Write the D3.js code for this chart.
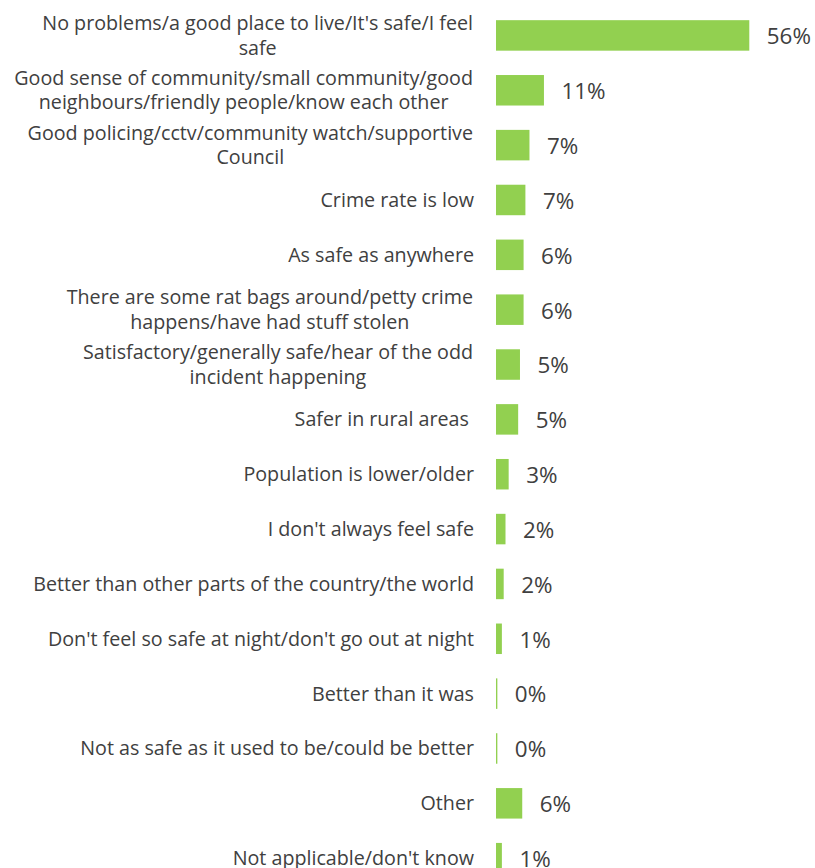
<!DOCTYPE html>
<html>
<head>
<meta charset="utf-8">
<script src="https://cdn.jsdelivr.net/npm/d3@7"></script>
<style>
  body { margin: 0; background: #fff; }
  text { font-family: "Open Sans", sans-serif; fill: #404040; }
</style>
</head>
<body>
<div id="chart"></div>
<script>
let w = 815;
let h = 868;

// categories as they appear, top to bottom
let categories = [
    "No problems/a good place to live/It's safe/I feel safe",
    "Good sense of community/small community/good neighbours/friendly people/know each other",
    "Good policing/cctv/community watch/supportive Council",
    "Crime rate is low",
    "As safe as anywhere",
    "There are some rat bags around/petty crime happens/have had stuff stolen",
    "Satisfactory/generally safe/hear of the odd incident happening",
    "Safer in rural areas ",
    "Population is lower/older",
    "I don't always feel safe",
    "Better than other parts of the country/the world",
    "Don't feel so safe at night/don't go out at night",
    "Better than it was",
    "Not as safe as it used to be/could be better",
    "Other",
    "Not applicable/don't know"
]

// values (percent)
let values = [56, 10.6, 7.4, 6.5, 6.1, 6.1, 5.3, 4.9, 2.8, 2.1, 1.7, 1.3, 0.3, 0.3, 5.8, 1.3]

// value labels as printed
let valueLabels = ["56%", "11%", "7%", "7%", "6%", "6%", "5%", "5%", "3%", "2%", "2%", "1%", "0%", "0%", "6%", "1%"]

let data = categories.map((c, i) => ({cat: c, value: values[i], label: valueLabels[i]}))

let left = 496
let labelRight = 474
let wrapWidth = 465
let lineH = 24.5

let svg = d3.select('#chart').append('svg').attr('width', w).attr('height', h)

let x = d3.scaleLinear().domain([0, 56]).range([left, 749.3])
let y = d3.scaleBand().domain(categories).range([8, 8 + 16 * 54.85])
    .paddingInner(0.444).paddingOuter(0.222)

// bars
svg.selectAll('rect.bar').data(data).enter().append('rect')
    .attr('class', 'bar')
    .attr('x', x(0))
    .attr('y', d => y(d.cat))
    .attr('width', d => x(d.value) - x(0))
    .attr('height', y.bandwidth())
    .attr('fill', '#92d050')

// value labels
svg.selectAll('text.val').data(data).enter().append('text')
    .attr('class', 'val')
    .attr('x', d => x(d.value) + 17.5)
    .attr('y', d => y(d.cat) + y.bandwidth() / 2 + 1)
    .attr('dy', '0.35em')
    .style('font-size', '22.4px')
    .text(d => d.label)

// category labels, wrapped and centred like the original
let measure = svg.append('text').style('font-size', '19.7px').attr('x', -1000)
function textW(s) { measure.text(s); return measure.node().getComputedTextLength() }

data.forEach(d => {
    let words = d.cat.split(' ')
    let lines = []
    let cur = ''
    words.forEach((wd, i) => {
        let test = cur === '' ? wd : cur + ' ' + wd
        if (cur !== '' && textW(test) > wrapWidth) {
            lines.push(cur)
            cur = wd
        } else cur = test
    })
    lines.push(cur)

    let cy = y(d.cat) + y.bandwidth() / 2
    let t = svg.append('text').style('font-size', '19.7px').attr('xml:space', 'preserve')
    if (lines.length === 1) {
        t.attr('text-anchor', 'end').attr('x', labelRight).attr('y', cy).attr('dy', '0.35em').text(lines[0])
    } else {
        let maxW = d3.max(lines, textW)
        let cx = labelRight - 1 - maxW / 2
        lines.forEach((ln, i) => {
            t.append('tspan')
                .attr('text-anchor', 'middle')
                .attr('x', cx)
                .attr('y', cy + (i - (lines.length - 1) / 2) * lineH)
                .attr('dy', '0.35em')
                .text(ln)
        })
    }
})
measure.remove()
</script>
</body>
</html>
